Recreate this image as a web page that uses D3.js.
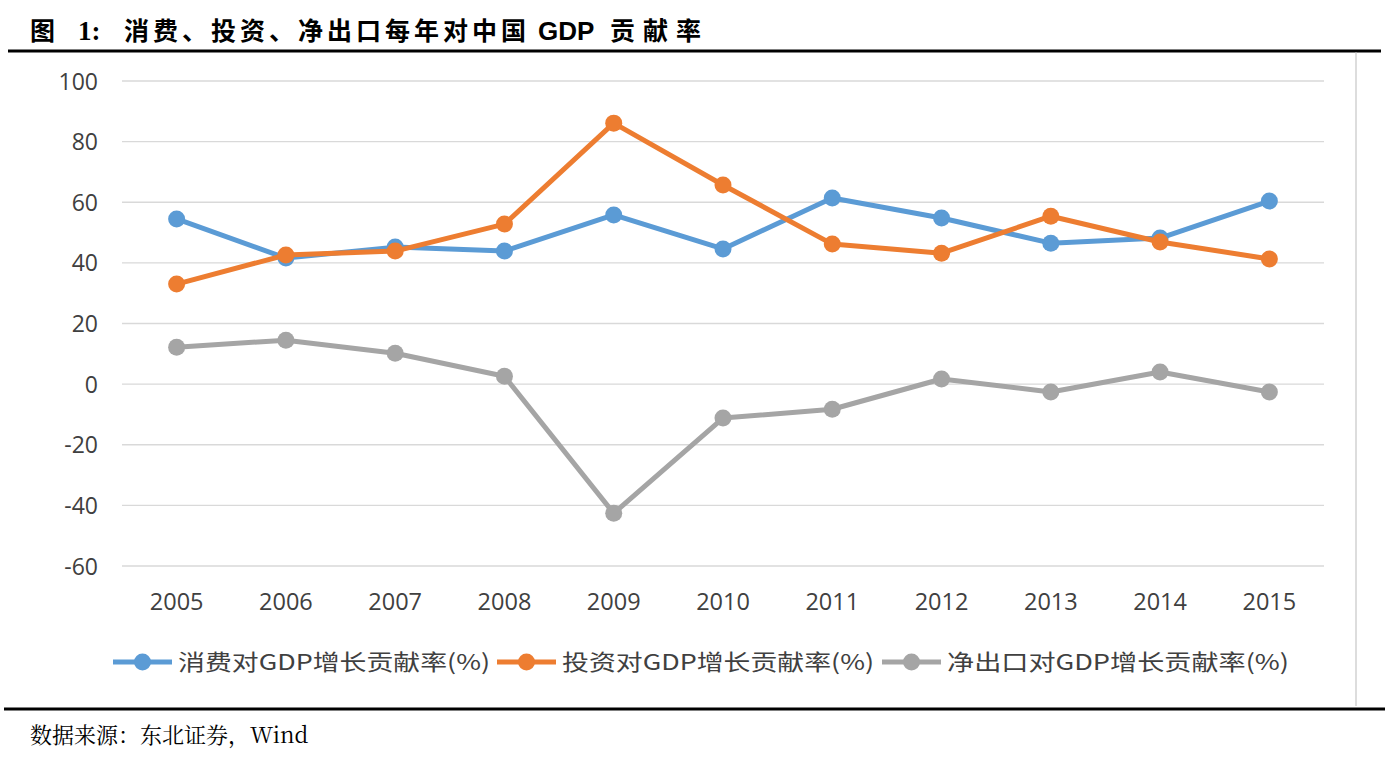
<!DOCTYPE html>
<html><head><meta charset="utf-8">
<script src="https://cdn.jsdelivr.net/npm/d3@7/dist/d3.min.js"></script>
<style>body{margin:0;background:#fff;} svg{display:block;}</style>
</head><body>
<svg id="c" width="1389" height="760"></svg>
<script>
const years = ["2005","2006","2007","2008","2009","2010","2011","2012","2013","2014","2015"];
const consumption = [54.5, 41.6, 45.2, 43.9, 55.8, 44.6, 61.4, 54.8, 46.5, 48.2, 60.4];
const investment  = [33.0, 42.6, 43.9, 52.8, 86.1, 65.7, 46.2, 43.2, 55.4, 46.9, 41.3];
const netExport   = [12.2, 14.5, 10.2, 2.6, -42.6, -11.2, -8.3, 1.7, -2.6, 4.0, -2.6];
const yTicks = [100, 80, 60, 40, 20, 0, -20, -40, -60];
const seriesNames = ["消费对GDP增长贡献率(%)", "投资对GDP增长贡献率(%)", "净出口对GDP增长贡献率(%)"];
const seriesColors = ["#5B9BD5", "#ED7D31", "#A5A5A5"];
const seriesData = [consumption, investment, netExport];

const svg = d3.select("#c");
const cjk = "'Noto Sans CJK SC','Noto Sans',sans-serif";
const serifCjk = "'Noto Serif CJK SC','Noto Sans CJK SC',serif";

// title
const tt = svg.append("g").attr("font-family", cjk).attr("font-weight", "bold")
  .attr("font-size", 25).attr("fill", "#000");
tt.append("text").attr("x", 30).attr("y", 40).text("图");
tt.append("text").attr("x", 78).attr("y", 40).attr("font-family", "'Liberation Serif',serif").attr("font-size", 27).text("1:");
tt.append("text").attr("x", 124).attr("y", 40).attr("letter-spacing", 4).text("消费、投资、净出口每年对中国");
tt.append("text").attr("x", 538).attr("y", 40).attr("font-family", "'Liberation Sans',sans-serif").attr("font-size", 26).text("GDP");
tt.append("text").attr("x", 610).attr("y", 40).attr("letter-spacing", 8).text("贡献率");

svg.append("line").attr("x1", 8).attr("x2", 1381).attr("y1", 51).attr("y2", 51)
  .attr("stroke", "#000").attr("stroke-width", 3);
svg.append("line").attr("x1", 1356).attr("x2", 1356).attr("y1", 52).attr("y2", 706)
  .attr("stroke", "#bbb").attr("stroke-width", 1);
svg.append("line").attr("x1", 4).attr("x2", 1385).attr("y1", 709).attr("y2", 709)
  .attr("stroke", "#000").attr("stroke-width", 3);
svg.append("text").attr("x", 30).attr("y", 743)
  .attr("font-family", serifCjk).attr("font-size", 22).attr("fill", "#000")
  .text("数据来源：东北证券，Wind");

const x = d3.scaleBand().domain(years).range([122, 1324]);
const y = d3.scaleLinear().domain([-60, 100]).range([566, 81]);

// grid
svg.append("g").selectAll("line").data(yTicks).join("line")
  .attr("x1", 122).attr("x2", 1324)
  .attr("y1", d => y(d)).attr("y2", d => y(d))
  .attr("stroke", "#d9d9d9").attr("stroke-width", 1.3);

// y axis labels
const yAxis = svg.append("g").attr("transform", "translate(110,0)")
  .call(d3.axisLeft(y).tickValues(yTicks).tickFormat(d => String(d)).tickSize(0).tickPadding(12));
yAxis.select(".domain").remove();
yAxis.selectAll("text").attr("font-family", "'Open Sans','Noto Sans',sans-serif")
  .attr("font-size", 23).attr("fill", "#404040").attr("dy", "0.35em");

// x axis labels
const xAxis = svg.append("g").attr("transform", "translate(0,583)")
  .call(d3.axisBottom(x).tickSize(0).tickPadding(10));
xAxis.select(".domain").remove();
xAxis.selectAll("text").attr("font-family", "'Open Sans','Noto Sans',sans-serif")
  .attr("font-size", 23.5).attr("fill", "#404040");

const line = d3.line().x((d, i) => x(years[i]) + x.bandwidth() / 2).y(d => y(d));
[2, 0, 1].forEach(k => {
  const g = svg.append("g");
  g.append("path").datum(seriesData[k]).attr("d", line)
    .attr("fill", "none").attr("stroke", seriesColors[k]).attr("stroke-width", 5)
    .attr("stroke-linejoin", "round");
  g.selectAll("circle").data(seriesData[k]).join("circle")
    .attr("cx", (d, i) => x(years[i]) + x.bandwidth() / 2)
    .attr("cy", d => y(d)).attr("r", 8.5).attr("fill", seriesColors[k]);
});

// legend
const legendX = [113, 497, 882];
const lg = svg.append("g");
seriesNames.forEach((name, k) => {
  const lx = legendX[k];
  lg.append("line").attr("x1", lx).attr("x2", lx + 59).attr("y1", 662).attr("y2", 662)
    .attr("stroke", seriesColors[k]).attr("stroke-width", 5);
  lg.append("circle").attr("cx", lx + 29.5).attr("cy", 662).attr("r", 8.5).attr("fill", seriesColors[k]);
  lg.append("text").attr("x", lx + 65).attr("y", 670)
    .attr("font-family", cjk).attr("font-size", 22).attr("fill", "#404040")
    .attr("textLength", k === 2 ? 342 : 312).attr("lengthAdjust", "spacingAndGlyphs")
    .text(name);
});
</script>
</body></html>
